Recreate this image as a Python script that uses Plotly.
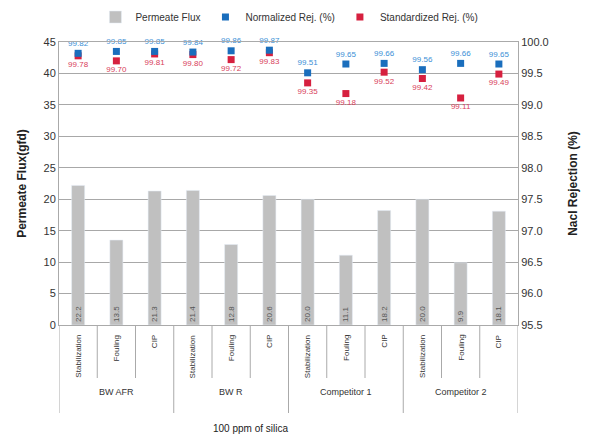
import plotly.graph_objects as go

groups = ["BW AFR", "BW AFR", "BW AFR", "BW R", "BW R", "BW R",
          "Competitor 1", "Competitor 1", "Competitor 1",
          "Competitor 2", "Competitor 2", "Competitor 2"]
stages = ["Stabilization", "Fouling", "CIP"] * 4
flux = [22.2, 13.5, 21.3, 21.4, 12.8, 20.6, 20.0, 11.1, 18.2, 20.0, 9.9, 18.1]
normalized = [99.82, 99.85, 99.85, 99.84, 99.86, 99.87, 99.51, 99.65, 99.66, 99.56, 99.66, 99.65]
standardized = [99.78, 99.70, 99.81, 99.80, 99.72, 99.83, 99.35, 99.18, 99.52, 99.42, 99.11, 99.49]

keys = [f"{g}|{s}" for g, s in zip(groups, stages)]
FONT = "Arial, Liberation Sans, sans-serif"
LINE = "#AAAAAA"

fig = go.Figure()
fig.add_trace(go.Bar(
    x=keys, y=flux, name="Permeate Flux", marker_color="#C0C0C0",
    text=[f"{v:.1f}" for v in flux], textposition="inside",
    insidetextanchor="start", textangle=-90,
    textfont=dict(size=8, color="#555555"), width=0.34, legendrank=1,
))
fig.add_trace(go.Scatter(
    x=keys, y=standardized, yaxis="y2", mode="markers+text",
    name="Standardized Rej. (%)", cliponaxis=False,
    marker=dict(symbol="square", size=7, color="#D6203F"),
    text=[f"{v:.2f}" for v in standardized], textposition="bottom center",
    textfont=dict(size=8, color="#D8405A"), legendrank=3,
))
fig.add_trace(go.Scatter(
    x=keys, y=normalized, yaxis="y2", mode="markers+text",
    name="Normalized Rej. (%)", cliponaxis=False,
    marker=dict(symbol="square", size=7, color="#1A6EBD"),
    text=[f"{v:.2f}" for v in normalized], textposition="top center",
    textfont=dict(size=8, color="#3A8FD6"), legendrank=2,
))

shapes = []
annotations = []
n = len(keys)
for i in range(n + 1):
    is_group_edge = i == 0 or i == n or groups[i] != groups[i - 1]
    shapes.append(dict(
        type="line", xref="x", yref="paper", ysizemode="pixel", yanchor=0,
        x0=i - 0.5, x1=i - 0.5, y0=0, y1=-88 if is_group_edge else -53,
        line=dict(color=LINE, width=1),
    ))
for i, k in enumerate(keys):
    annotations.append(dict(
        text=stages[i], x=k, xref="x", yref="paper", y=0, yshift=-8,
        xanchor="center", yanchor="top", textangle=-90, showarrow=False,
        font=dict(size=8, color="#333333"),
    ))
seen = []
for g in groups:
    if g not in seen:
        seen.append(g)
for g in seen:
    idx = [i for i, gg in enumerate(groups) if gg == g]
    annotations.append(dict(
        text=g, x=(idx[0] + idx[-1]) / 2, xref="x", yref="paper", y=0, yshift=-67,
        xanchor="center", yanchor="middle", showarrow=False,
        font=dict(size=9, color="#333333"),
    ))
annotations.append(dict(
    text="100 ppm of silica", xref="paper", yref="paper", x=(250 - 59) / 459,
    y=0, yshift=-103, xanchor="center", yanchor="middle", showarrow=False,
    font=dict(size=10, color="#222222"),
))

# page body has an 8px margin; size the figure so it fills the 600x439 window
fig.update_layout(
    width=592, height=431,
    margin=dict(l=51, r=82, t=34, b=114),
    paper_bgcolor="white", plot_bgcolor="white",
    font=dict(family=FONT, color="#333333"),
    showlegend=True,
    uniformtext=dict(minsize=8, mode="show"),
    legend=dict(orientation="h", x=0.502, xanchor="center", y=0.979, yref="container",
                yanchor="middle", font=dict(size=10), itemwidth=30, traceorder="normal"),
    xaxis=dict(
        type="category", categoryorder="array", categoryarray=keys,
        range=[-0.5, n - 0.5], showticklabels=False, ticks="",
        showline=True, linecolor=LINE, mirror=True, showgrid=False, automargin=False,
    ),
    yaxis=dict(
        range=[0, 45], dtick=5, showgrid=True, gridcolor="#A8A8A8", gridwidth=1,
        showline=True, linecolor=LINE, tickfont=dict(size=11, color="#333333"),
        zeroline=False, automargin=False, ticks="",
        title=dict(text="<b>Permeate Flux(gfd)</b>", font=dict(size=12, color="#222222"), standoff=14),
    ),
    yaxis2=dict(
        range=[95.5, 100.0], dtick=0.5, tickformat=".1f", overlaying="y", side="right",
        showgrid=False, showline=True, linecolor=LINE, zeroline=False, automargin=False,
        tickfont=dict(size=11, color="#333333"), ticks="",
        title=dict(text="<b>Nacl Rejection (%)</b>", font=dict(size=12, color="#222222"), standoff=20),
    ),
    shapes=shapes,
    annotations=annotations,
)

fig.write_html("out.html")
